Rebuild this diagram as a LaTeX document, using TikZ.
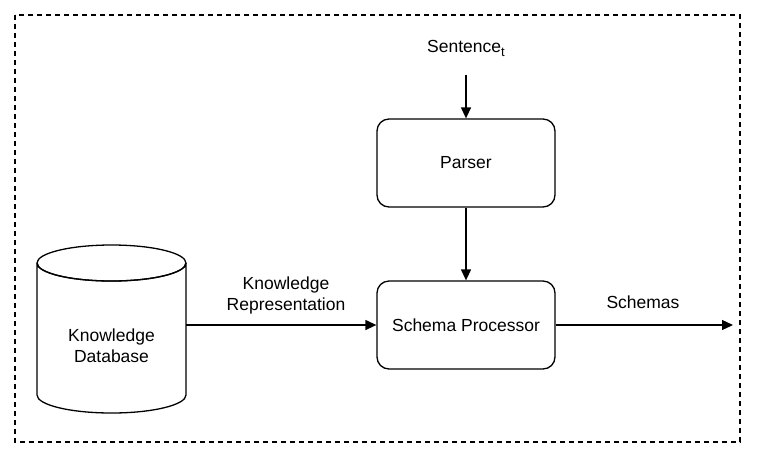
\documentclass[tikz,border=0pt]{standalone}
\usepackage{fontspec}
\setmainfont{Liberation Sans}
\usetikzlibrary{shapes.geometric,arrows.meta}
\begin{document}
\begin{tikzpicture}[x=1pt,y=-1pt,
  every node/.style={font=\fontsize{17.5}{21}\selectfont, align=center},
  box/.style={draw, line width=1.3pt, rounded corners=12pt, minimum width=178pt, minimum height=88pt, inner sep=0pt},
  conn/.style={line width=1.3pt, -{Triangle[length=11pt,width=10pt]}},
  lbl/.style={inner sep=0pt}]
\useasboundingbox (0,0) rectangle (760,459);
\draw[line width=1.2pt, dash pattern=on 5pt off 4pt] (15,15) rectangle (740,442);
\node[box] (parser) at (466,163) {Parser};
\node[box] (proc) at (466,325) {Schema Processor};
\node[lbl] (sent) at (466,48) {Sentence\raisebox{-4pt}{\fontsize{13}{13}\selectfont t}};
\coordinate (sentend) at (466,75);
\draw[conn] (sentend) -- (parser.north);
\draw[conn] (parser.south) -- (proc.north);
% cylinder
\coordinate (dbR) at (186,325);
\draw[line width=1.3pt, fill=white] (37,263) -- (37,395) arc[start angle=180, end angle=360, x radius=74.5pt, y radius=18pt] -- (186,263) arc[start angle=0, end angle=360, x radius=74.5pt, y radius=18pt];
\draw[line width=1.3pt] (37,263) arc[start angle=180, end angle=360, x radius=74.5pt, y radius=18pt];
\node[lbl] (db) at (111.5,346) {Knowledge\\Database};
\draw[conn] (dbR) -- (proc.west);
\node[lbl] (kr) at (286,295) {Knowledge\\Representation};
\coordinate (out) at (733,325);
\draw[conn] (proc.east) -- (out);
\node[lbl] (sch) at (643,302) {Schemas};
\end{tikzpicture}
\end{document}
